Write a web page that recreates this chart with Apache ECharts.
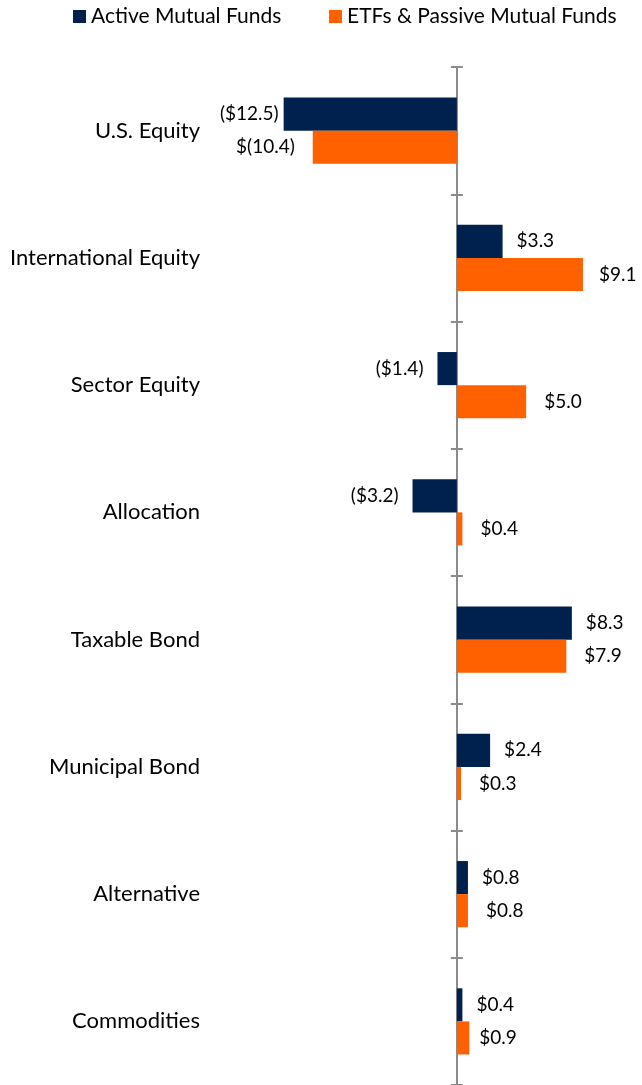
<!DOCTYPE html>
<html>
<head>
<meta charset="utf-8">
<script src="https://cdn.jsdelivr.net/npm/echarts@6/dist/echarts.min.js"></script>
<style>
  html, body { margin: 0; padding: 0; background: #fff; }
  #flowChart { width: 642px; height: 1085px; }
</style>
</head>
<body>
<div id="flowChart"></div>
<script>
// categories, top to bottom
var categories = ['U.S. Equity', 'International Equity', 'Sector Equity', 'Allocation',
  'Taxable Bond', 'Municipal Bond', 'Alternative', 'Commodities']
// flows in $ billions
var activeFlows = [-12.5, 3.3, -1.4, -3.2, 8.3, 2.4, 0.8, 0.4]
var passiveFlows = [-10.4, 9.1, 5.0, 0.4, 7.9, 0.3, 0.8, 0.9]
var seriesNames = ['Active Mutual Funds', 'ETFs & Passive Mutual Funds']

var NAVY = '#00214D'
var ORANGE = '#FF6000'
var FONT = 'Lato'

// a few labels sit closer to / further from their bar in the original
var activeDistance = { 'U.S. Equity': 5 }
var passiveDistance = { 'International Equity': 16, 'Commodities': 10 }

function toItems (values, distances) {
  return values.map(function (v, i) {
    var lbl = { position: v < 0 ? 'left' : 'right' }
    if (distances[categories[i]] != null) lbl.distance = distances[categories[i]]
    return { value: v, label: lbl }
  })
}

function activeLabel (p) {
  var v = p.value
  return v < 0 ? '($' + Math.abs(v).toFixed(1) + ')' : '$' + v.toFixed(1)
}
function passiveLabel (p) {
  var v = p.value
  return v < 0 ? '$(' + Math.abs(v).toFixed(1) + ')' : '$' + v.toFixed(1)
}

var tickAxis = function (inside, showLine) {
  return {
    type: 'category',
    data: categories,
    inverse: true,
    position: 'left',
    axisLine: { show: showLine, onZero: true, onZeroAxisIndex: 0, lineStyle: { color: '#8c8c8c', width: 2 } },
    axisTick: { show: true, inside: inside, length: 6, lineStyle: { color: '#8c8c8c', width: 2 } },
    axisLabel: { show: false },
    splitLine: { show: false }
  }
}

var legendItem = function (name, left) {
  return {
    data: [name],
    left: left,
    top: 6,
    padding: 0,
    icon: 'rect',
    itemWidth: 13,
    itemHeight: 13,
    textStyle: { fontSize: 21, color: '#000', fontFamily: FONT }
  }
}

var option = {
  animation: false,
  textStyle: { fontFamily: FONT },
  legend: [legendItem(seriesNames[0], 73), legendItem(seriesNames[1], 329)],
  grid: { left: 249, right: 5, top: 67, bottom: 0 },
  xAxis: {
    type: 'value',
    min: -15,
    max: 13,
    show: false
  },
  yAxis: [
    {
      type: 'category',
      data: categories,
      inverse: true,
      axisLine: { show: false, onZero: false },
      axisTick: { show: false },
      axisLabel: { margin: 49, fontSize: 22, color: '#000', fontFamily: FONT }
    },
    tickAxis(false, true),
    tickAxis(true, false)
  ],
  series: [
    {
      name: seriesNames[0],
      type: 'bar',
      data: toItems(activeFlows, activeDistance),
      itemStyle: { color: NAVY },
      barGap: '0%',
      barCategoryGap: '48%',
      label: { show: true, distance: 14, fontSize: 19, color: '#000', fontFamily: FONT, formatter: activeLabel }
    },
    {
      name: seriesNames[1],
      type: 'bar',
      data: toItems(passiveFlows, passiveDistance),
      itemStyle: { color: ORANGE },
      barGap: '0%',
      barCategoryGap: '48%',
      label: { show: true, distance: 18, fontSize: 19, color: '#000', fontFamily: FONT, formatter: passiveLabel }
    }
  ]
}

var chart = echarts.init(document.getElementById('flowChart'))
chart.setOption(option)
</script>
</body>
</html>
